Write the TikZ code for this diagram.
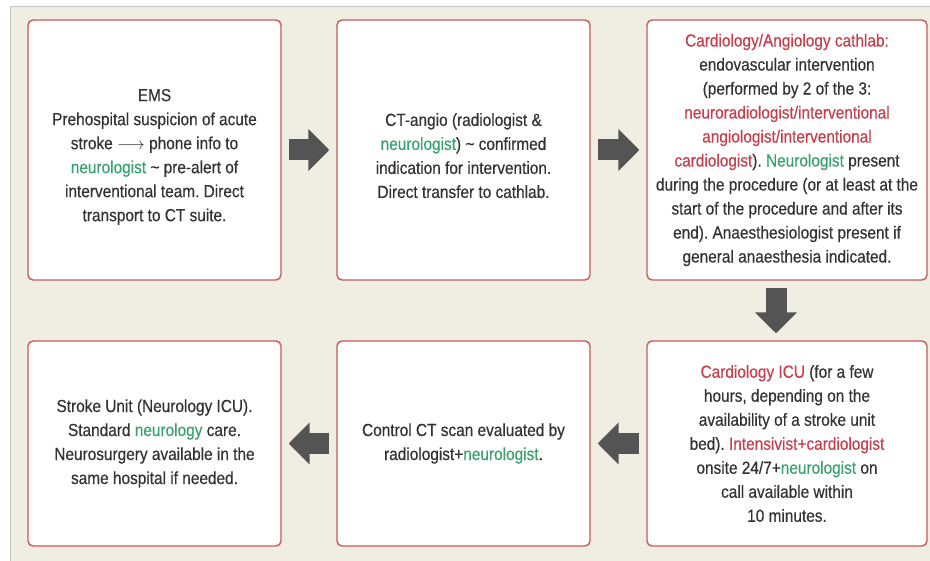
\documentclass[tikz,border=0pt]{standalone}
\usepackage{fontspec}
\setmainfont{Liberation Sans}[FakeStretch=0.88, FakeBold=0.4]
\usetikzlibrary{arrows.meta}

\definecolor{bgbeige}{HTML}{F0EEE3}
\definecolor{framegray}{HTML}{C4C4C0}
\definecolor{boxred}{HTML}{C65A5C}
\definecolor{textgray}{HTML}{333333}
\definecolor{textred}{HTML}{C4404C}
\definecolor{textgreen}{HTML}{3AA270}
\definecolor{arrowgray}{HTML}{545454}

\newcommand{\rd}[1]{\textcolor{textred}{#1}}
\newcommand{\gn}[1]{\textcolor{textgreen}{#1}}
\frenchspacing

\tikzset{
  stepbox/.style={draw=boxred, line width=1.4pt, rounded corners=5pt, fill=white,
    align=center, text=textgray, inner sep=2pt,
    font=\fontsize{17.5}{24}\selectfont,
    minimum width=253pt, minimum height=260pt},
  widebox/.style={stepbox, minimum width=280pt},
  lowbox/.style={minimum height=205pt},
  flowarrow/.style={draw=arrowgray, line width=21pt,
    -{Triangle[length=21pt,width=41pt]}, shorten <=7pt, shorten >=7pt}
}

\begin{document}
\begin{tikzpicture}[x=1pt,y=-1pt]

%--- Frame and background ---
\useasboundingbox (0,0) rectangle (930,561);
\fill[white] (0,0) rectangle (930,561);
\fill[bgbeige] (10,7) rectangle (930,561);
\draw[framegray, line width=1pt] (10,561) -- (10,7) -- (930,7);

%--- Top row ---
\node[stepbox] (ems) at (154.5,150) {\mbox{}\\[2pt]EMS\\
  Prehospital suspicion of acute\\
  stroke $\longrightarrow$ phone info to\\
  \gn{neurologist} \textasciitilde\ pre-alert of\\
  interventional team. Direct\\
  transport to CT suite.};

\node[stepbox] (ctangio) at (463.5,150) {\mbox{}\\[0pt]CT-angio (radiologist \&\\
  \gn{neurologist}) \textasciitilde\ confirmed\\
  indication for intervention.\\
  Direct transfer to cathlab.};

\node[widebox] (cathlab) at (787,150) {\rd{Cardiology/Angiology cathlab:}\\
  endovascular intervention\\
  (performed by 2 of the 3:\\
  \rd{neuroradiologist/interventional}\\
  \rd{angiologist/interventional}\\
  \rd{cardiologist}). \gn{Neurologist} present\\
  during the procedure (or at least at the\\
  start of the procedure and after its\\
  end). Anaesthesiologist present if\\
  general anaesthesia indicated.};

%--- Bottom row ---
\node[stepbox, lowbox] (strokeunit) at (154.5,443.5) {Stroke Unit (Neurology ICU).\\
  Standard \gn{neurology} care.\\
  Neurosurgery available in the\\
  same hospital if needed.};

\node[stepbox, lowbox] (controlct) at (463.5,443.5) {Control CT scan evaluated by\\
  radiologist+\gn{neurologist}.};

\node[widebox, lowbox] (icu) at (787,443.5) {\rd{Cardiology ICU} (for a few\\
  hours, depending on the\\
  availability of a stroke unit\\
  bed). \rd{Intensivist+cardiologist}\\
  onsite 24/7+\gn{neurologist} on\\
  call available within\\
  10 minutes.};

%--- Flow arrows ---
\draw[flowarrow] (ems) -- (ctangio);
\draw[flowarrow] (ctangio) -- (cathlab);
\draw[flowarrow] ([xshift=-11pt]cathlab.south) -- ([xshift=-11pt]icu.north);
\draw[flowarrow] (icu) -- (controlct);
\draw[flowarrow] (controlct) -- (strokeunit);

\end{tikzpicture}
\end{document}
